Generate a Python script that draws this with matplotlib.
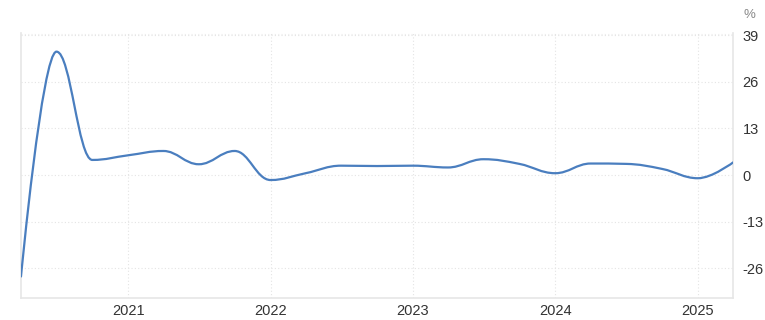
import matplotlib
matplotlib.use("Agg")
import matplotlib.pyplot as plt
import matplotlib.dates as mdates
from matplotlib.path import Path
from matplotlib.patches import PathPatch
import numpy as np
import datetime as dt

# quarterly values, %
quarters = ["2020-04", "2020-07", "2020-10", "2021-01", "2021-04", "2021-07", "2021-10",
            "2022-01", "2022-04", "2022-07", "2022-10", "2023-01", "2023-04", "2023-07",
            "2023-10", "2024-01", "2024-04", "2024-07", "2024-10", "2025-01", "2025-04"]
values = [-28.3, 34.4, 4.2, 5.5, 6.7, 3.0, 6.7,
          -1.4, 0.5, 2.6, 2.5, 2.6, 2.1, 4.4,
          3.1, 0.5, 3.2, 3.1, 1.7, -0.9, 3.5]
yticks = [-26, -13, 0, 13, 26, 39]
years = [2021, 2022, 2023, 2024, 2025]

dates = [dt.datetime.strptime(q, "%Y-%m") for q in quarters]
xs = mdates.date2num(dates)
ys = np.array(values)


def spline_path(x, y, smoothing=1.5):
    # highcharts style spline, bezier control points
    n = len(x)
    left = [None] * n
    right = [None] * n
    for i in range(n):
        if i == 0 or i == n - 1:
            left[i] = (x[i], y[i])
            right[i] = (x[i], y[i])
            continue
        d = smoothing + 1
        lcx = (smoothing * x[i] + x[i - 1]) / d
        lcy = (smoothing * y[i] + y[i - 1]) / d
        rcx = (smoothing * x[i] + x[i + 1]) / d
        rcy = (smoothing * y[i] + y[i + 1]) / d
        corr = 0
        if rcx != lcx:
            corr = (rcy - lcy) * (rcx - x[i]) / (rcx - lcx) + y[i] - rcy
        lcy += corr
        rcy += corr
        if lcy > y[i - 1] and lcy > y[i]:
            lcy = max(y[i - 1], y[i]); rcy = 2 * y[i] - lcy
        elif lcy < y[i - 1] and lcy < y[i]:
            lcy = min(y[i - 1], y[i]); rcy = 2 * y[i] - lcy
        if rcy > y[i + 1] and rcy > y[i]:
            rcy = max(y[i + 1], y[i]); lcy = 2 * y[i] - rcy
        elif rcy < y[i + 1] and rcy < y[i]:
            rcy = min(y[i + 1], y[i]); lcy = 2 * y[i] - rcy
        left[i] = (lcx, lcy)
        right[i] = (rcx, rcy)
    verts = [(x[0], y[0])]
    codes = [Path.MOVETO]
    for i in range(1, n):
        verts += [right[i - 1], left[i], (x[i], y[i])]
        codes += [Path.CURVE4] * 3
    return Path(verts, codes)


plt.rcParams['font.family'] = ['Liberation Sans', 'DejaVu Sans']
fig = plt.figure(figsize=(7.65, 3.2), dpi=100)
ax = fig.add_axes([21 / 765, 1 - 298 / 320, (733 - 21) / 765, (298 - 33) / 320])
ax.set_axisbelow(True)

ax.add_patch(PathPatch(spline_path(xs, ys), fill=False, edgecolor="#4a7ebf", lw=1.6,
                       capstyle="round", joinstyle="round", zorder=5))

ax.set_xlim(xs[0], xs[-1])
ax.set_ylim(-34.3, 39.6)

ax.yaxis.tick_right()
ax.set_yticks(yticks)
ax.set_yticklabels([str(t) for t in yticks])
ax.set_xticks(mdates.date2num([dt.datetime(y, 1, 1) for y in years]))
ax.set_xticklabels([str(y) for y in years])
ax.tick_params(axis="both", length=0, labelsize=10.5, colors="#333333")
ax.tick_params(axis="y", pad=7)
ax.tick_params(axis="x", pad=4)

ax.grid(True, color="#e4e4e4", lw=0.8, ls=(0, (1, 2)), zorder=0)
for s in ["left", "bottom", "right"]:
    ax.spines[s].set_color("#e6e6e6")
    ax.spines[s].set_linewidth(1.2)
ax.spines["top"].set_visible(False)
ax.axhline(39.3, color="#eeeeee", lw=0.8, ls=(0, (1, 2)), zorder=0)

fig.text(749 / 765, 1 - 15 / 320, "%", ha="center", va="center", fontsize=9.5, color="#888888")

fig.savefig("out.png", dpi=100)
